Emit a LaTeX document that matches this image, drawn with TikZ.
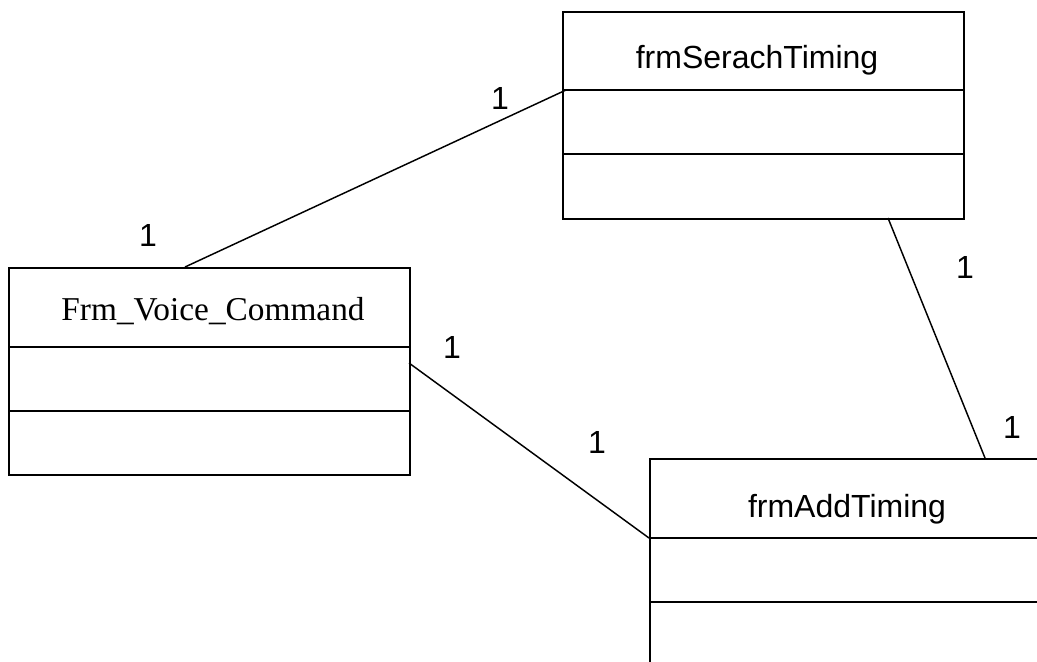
\documentclass[tikz,border=0pt]{standalone}
\usepackage{fontspec}
\setmainfont{Liberation Serif}
\setsansfont{Liberation Sans}
\usetikzlibrary{calc}
\begin{document}
\begin{tikzpicture}[x=0.75pt,y=-0.75pt,
  classbox/.style={draw,line width=1.5pt,rectangle,anchor=north west,
    minimum width=300.75pt,minimum height=155.25pt,inner sep=0pt},
  divider/.style={line width=1.4pt},
  assoc/.style={line width=1.1pt},
  mult/.style={font=\sffamily\fontsize{24}{27}\selectfont,anchor=base,inner sep=0pt},
  sanstitle/.style={font=\sffamily\fontsize{24}{27}\selectfont,anchor=base,inner sep=0pt},
  seriftitle/.style={font=\rmfamily\fontsize{25}{28}\selectfont,anchor=base,inner sep=0pt}]
\useasboundingbox (0,0) rectangle (1037,661);
\clip (0,0) rectangle (1037,661);

% class boxes
\node[classbox] (search) at (562,11) {};
\node[classbox] (voice) at (8,267) {};
\node[classbox] (add) at (649,458) {};

% compartment dividers
\draw[divider] ($(search.north west)+(0,79)$) -- ($(search.north east)+(0,79)$);
\draw[divider] ($(search.north west)+(0,143)$) -- ($(search.north east)+(0,143)$);
\draw[divider] ($(voice.north west)+(0,80)$) -- ($(voice.north east)+(0,80)$);
\draw[divider] ($(voice.north west)+(0,144)$) -- ($(voice.north east)+(0,144)$);
\draw[divider] ($(add.north west)+(0,80)$) -- ($(add.north east)+(0,80)$);
\draw[divider] ($(add.north west)+(0,144)$) -- ($(add.north east)+(0,144)$);

% class names
\node[sanstitle] (searchname) at (757,68) {frmSerachTiming};
\node[seriftitle] (voicename) at (213,320) {Frm\_Voice\_Command};
\node[sanstitle] (addname) at (847,517) {frmAddTiming};

% association end points
\coordinate (vtop) at (185,267);
\coordinate (sleft) at (566,90);
\coordinate (sbot) at (888,218);
\coordinate (atop) at (985,458);
\coordinate (vright) at (409,363);
\coordinate (aleft) at (649,538);

% associations
\draw[assoc] (vtop) -- (sleft);
\draw[assoc] (sbot) -- (atop);
\draw[assoc] (vright) -- (aleft);

% multiplicities
\node[mult] (m1) at (500,109) {1};
\node[mult] (m2) at (148,246) {1};
\node[mult] (m3) at (965,278) {1};
\node[mult] (m4) at (1012,438) {1};
\node[mult] (m5) at (452,358) {1};
\node[mult] (m6) at (597,453) {1};
\end{tikzpicture}
\end{document}
